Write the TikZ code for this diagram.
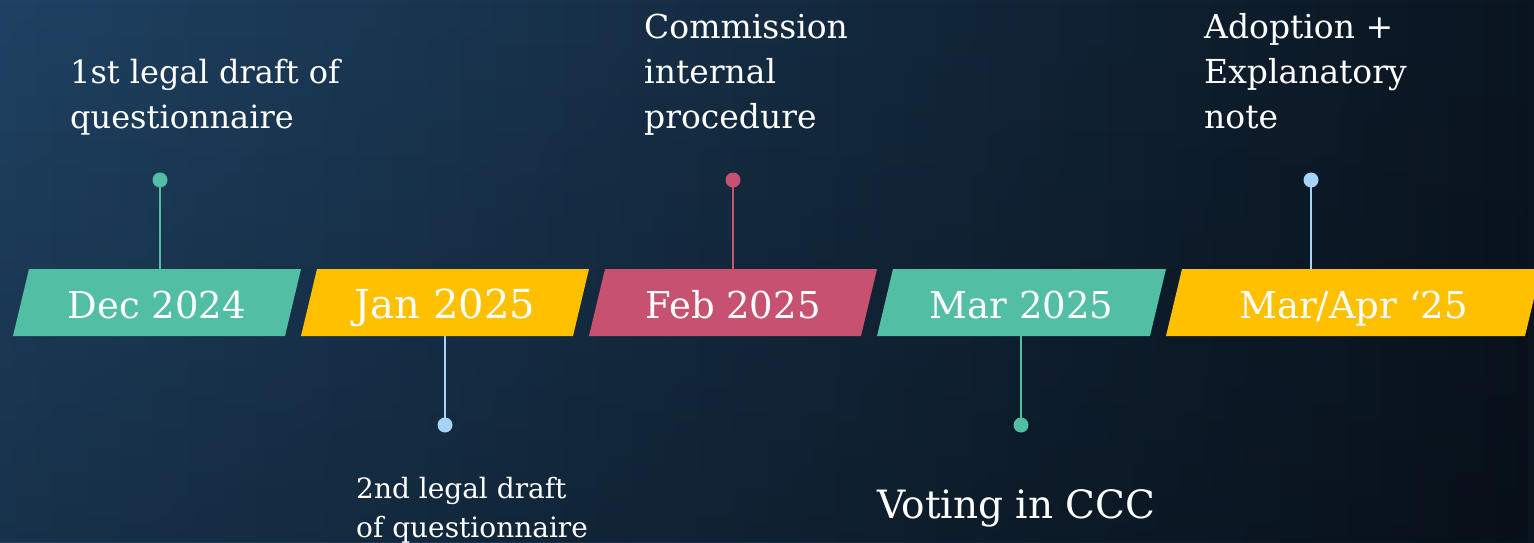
\documentclass[tikz,border=0pt]{standalone}
\usepackage{fontspec}
\setmainfont{DejaVu Serif}
\usetikzlibrary{fadings}

\definecolor{bgleft}{HTML}{1F4263}
\definecolor{bgright}{HTML}{0A1520}
\definecolor{tlgreen}{HTML}{52BFA4}
\definecolor{tlyellow}{HTML}{FFC000}
\definecolor{tlred}{HTML}{C7526F}
\definecolor{tlblue}{HTML}{A6D4F7}

\begin{document}
\begin{tikzpicture}[x=1pt, y=-1pt,
  month/.style={text=white, anchor=base, inner sep=0pt},
  event/.style={text=white, align=left, anchor=base west, inner sep=0pt},
  pin/.style={circle, fill=#1, minimum size=15pt, inner sep=0pt},
  stem/.style={draw=#1, line width=2.4pt}]

  % background
  \clip (0,0) rectangle (1534,542);
  \shade[left color=bgleft, right color=bgright] (0,0) rectangle (1534,542);
  \fill[black, path fading=north, opacity=0.25] (0,0) rectangle (1534,542);

  % boxes
  \foreach \name/\b/\w/\col/\fs/\lab in {dec/13/272/tlgreen/37/{Dec 2024},
      jan/301/272/tlyellow/40/{Jan 2025}, feb/589/272/tlred/37/{Feb 2025},
      mar/877/273/tlgreen/37/{Mar 2025}, apr/1166/359/tlyellow/37/{Mar/Apr ‘25}} {
    \fill[\col] (\b,336) -- ++(\w,0) -- ++(16,-67) -- ++(-\w,0) -- cycle;
    \node[month, font=\fontsize{\fs}{\fs}\selectfont] (box-\name) at (\b+\w/2+8,318) {\lab};
  }

  % pins
  \foreach \name/\x/\y/\e/\col in {dec/160/180/269/tlgreen, jan/445/425/336/tlblue,
      feb/733/180/269/tlred, mar/1021/425/336/tlgreen, apr/1311/180/269/tlblue} {
    \coordinate (edge-\name) at (\x,\e);
    \node[pin=\col] (pin-\name) at (\x,\y) {};
    \draw[stem=\col] (pin-\name.center) -- (edge-\name);
  }

  % labels (anchored at the last baseline)
  \node[event, font=\fontsize{32}{45}\selectfont] (note-dec) at (70,128) {1st legal draft of\\questionnaire};
  \node[event, font=\fontsize{33}{45}\selectfont] (note-feb) at (644,128) {Commission\\internal\\procedure};
  \node[event, font=\fontsize{33}{45}\selectfont] (note-apr) at (1204,128) {Adoption +\\Explanatory\\note};
  \node[event, font=\fontsize{28}{39}\selectfont] (note-jan) at (356,537) {2nd legal draft\\of questionnaire};
  \node[event, font=\fontsize{39}{47}\selectfont] (note-mar) at (877,518) {Voting in CCC};
\end{tikzpicture}
\end{document}
